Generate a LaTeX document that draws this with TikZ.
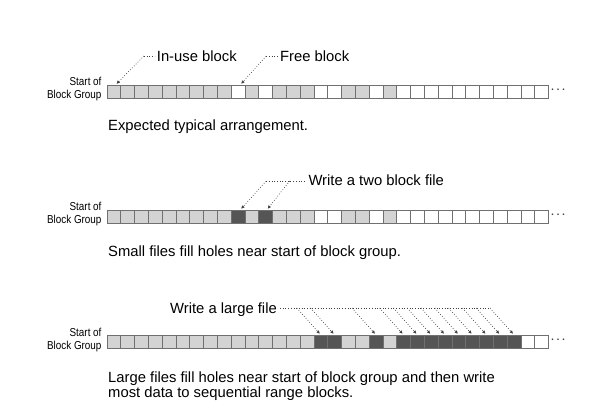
\documentclass[tikz,border=0pt]{standalone}
\usepackage{fontspec}
\setmainfont{Liberation Sans}
\newfontfamily\condfont[FakeStretch=0.86]{Liberation Sans}
\usetikzlibrary{calc,arrows.meta}
\definecolor{blkline}{HTML}{707070}
\definecolor{cL}{HTML}{D3D3D3}
\definecolor{cD}{HTML}{555555}
\definecolor{cW}{HTML}{FFFFFF}
\definecolor{dotcol}{HTML}{404040}
\begin{document}
\begin{tikzpicture}[x=1pt,y=-1pt,
  blk/.style={draw=blkline,line width=0.8pt,minimum width=13.8pt,minimum height=13.5pt,inner sep=0pt,outer sep=0pt},
  lbl/.style={inner sep=0pt,font=\fontsize{14.8}{15}\selectfont},
  sml/.style={inner sep=0pt,align=right,font=\condfont\fontsize{11.5}{13.3}\selectfont},
  dotline/.style={draw=dotcol,line width=0.7pt,dotted},
  ptr/.style={dotline,-{Latex[length=3.4pt,width=3.4pt]},shorten >=1.5pt},
  ell/.style={inner sep=0pt,text=dotcol,font=\boldmath\fontsize{11}{11}\selectfont}]
\useasboundingbox (0,0) rectangle (596,413);
% ---------- row 1
\foreach \c [count=\i from 0] in {cL,cL,cL,cL,cL,cL,cL,cL,cL,cW,cL,cW,cL,cL,cL,cW,cW,cL,cL,cW,cL,cW,cW,cW,cW,cW,cW,cW,cW,cW,cW,cW}
  \node[blk,fill=\c] (r1b\i) at ({113.9+13.8*\i},91.75) {};
\node[sml,anchor=base east] (s1) at ($(r1b0.south west)+(-5.3,0)$) {Start of\\Block Group};
\node[ell,anchor=west] (e1) at ($(r1b31.east)+(2,-1.5)$) {$\cdots$};
\coordinate (u1) at ($(r1b0.north)+(30,-29)$);
\coordinate (u2) at ($(r1b9.north)+(28,-29)$);
\node[lbl,anchor=base west] (inuse) at (156.7,61) {In-use block};
\node[lbl,anchor=base west] (free) at (280,61) {Free block};
\draw[ptr] (u1) -- ([xshift=1.5pt]r1b0.north);
\draw[dotline] (u1) -- ([xshift=-2pt]u1 -| inuse.west);
\draw[ptr] (u2) -- ([xshift=2pt]r1b9.north);
\draw[dotline] (u2) -- ([xshift=-2pt]u2 -| free.west);
\node[lbl,anchor=base west] (cap1) at (108,130) {Expected typical arrangement.};
% ---------- row 2
\foreach \c [count=\i from 0] in {cL,cL,cL,cL,cL,cL,cL,cL,cL,cD,cL,cD,cL,cL,cL,cW,cW,cL,cL,cW,cL,cW,cW,cW,cW,cW,cW,cW,cW,cW,cW,cW}
  \node[blk,fill=\c] (r2b\i) at ({113.9+13.8*\i},216.75) {};
\node[sml,anchor=base east] (s2) at ($(r2b0.south west)+(-5.3,0)$) {Start of\\Block Group};
\node[ell,anchor=west] (e2) at ($(r2b31.east)+(2,-1.5)$) {$\cdots$};
\coordinate (u3) at ($(r2b9.north)+(28,-29)$);
\coordinate (u4) at ($(r2b11.north)+(24,-29)$);
\node[lbl,anchor=base west] (two) at (308.3,185) {Write a two block file};
\draw[ptr] (u3) -- ([xshift=2pt]r2b9.north);
\draw[ptr] (u4) -- ([xshift=1pt]r2b11.north);
\draw[dotline] (u3) -- ([xshift=-3pt]u3 -| two.west);
\node[lbl,anchor=base west] (cap2) at (108,256.5) {Small files fill holes near start of block group.};
% ---------- row 3
\foreach \c [count=\i from 0] in {cL,cL,cL,cL,cL,cL,cL,cL,cL,cL,cL,cL,cL,cL,cL,cD,cD,cL,cL,cD,cL,cD,cD,cD,cD,cD,cD,cD,cD,cD,cW,cW}
  \node[blk,fill=\c] (r3b\i) at ({113.9+13.8*\i},341.75) {};
\node[sml,anchor=base east] (s3) at ($(r3b0.south west)+(-5.3,1)$) {Start of\\Block Group};
\node[ell,anchor=west] (e3) at ($(r3b31.east)+(2,-1.5)$) {$\cdots$};
\node[lbl,anchor=base east] (large) at (277,313.3) {Write a large file};
\foreach \k in {15,16,19,21,22,23,24,25,26,27,28,29}{
  \coordinate (t\k) at ($(r3b\k.north)+(-24,-27)$);
  \draw[ptr] (t\k) -- (r3b\k.north);
}
\draw[dotline] ([xshift=3pt]large.east |- t15) -- (t29);
\node[lbl,anchor=base west,align=left] (cap3) at (108,397.7) {Large files fill holes near start of block group and then write\\most data to sequential range blocks.};
\end{tikzpicture}
\end{document}
